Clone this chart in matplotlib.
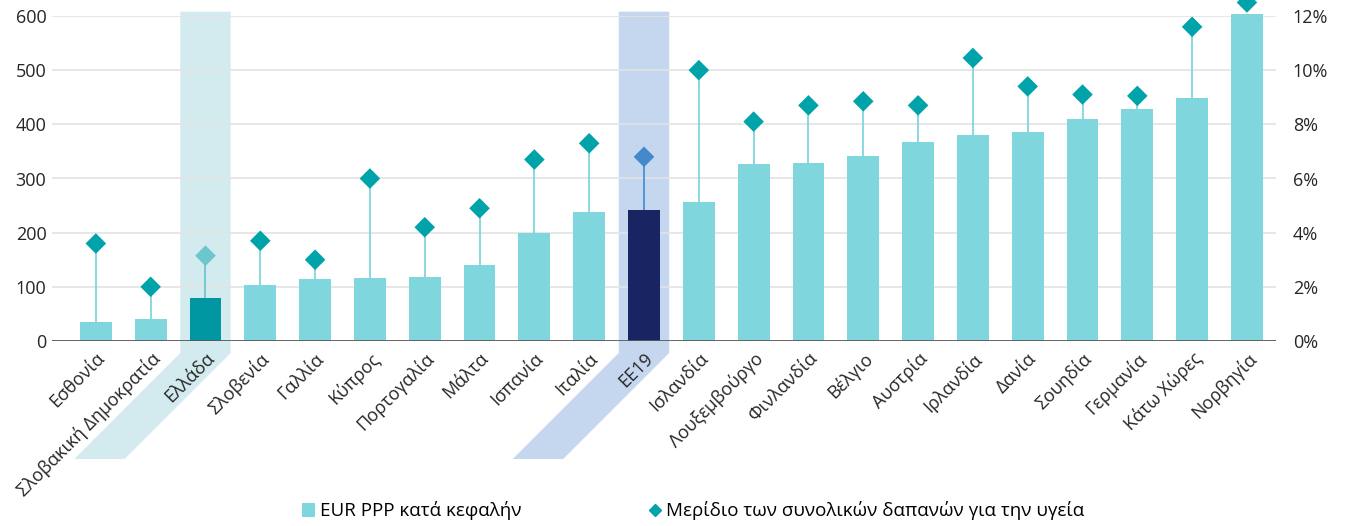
import numpy as np
import matplotlib
matplotlib.use('Agg')
import matplotlib.pyplot as plt
from matplotlib.patches import Polygon
from matplotlib.lines import Line2D
from matplotlib.patches import Patch

plt.rcParams['font.family'] = ['Open Sans', 'DejaVu Sans']

countries = ['Εσθονία', 'Σλοβακική Δημοκρατία', 'Ελλάδα', 'Σλοβενία', 'Γαλλία', 'Κύπρος',
             'Πορτογαλία', 'Μάλτα', 'Ισπανία', 'Ιταλία', 'ΕΕ19', 'Ισλανδία', 'Λουξεμβούργο',
             'Φινλανδία', 'Βέλγιο', 'Αυστρία', 'Ιρλανδία', 'Δανία', 'Σουηδία', 'Γερμανία',
             'Κάτω Χώρες', 'Νορβηγία']
eur_ppp = [36, 40, 79, 103, 114, 116, 118, 140, 200, 238, 242, 257, 327, 328, 342, 368,
           381, 385, 409, 428, 449, 604]
share = [3.6, 2.0, 3.15, 3.7, 3.0, 6.0, 4.2, 4.9, 6.7, 7.3, 6.8, 10.0, 8.1, 8.7, 8.85,
         8.7, 10.45, 9.4, 9.1, 9.05, 11.6, 12.5]
left_ticks = [0, 100, 200, 300, 400, 500, 600]
right_ticks = [0, 2, 4, 6, 8, 10, 12]
bar_label = 'EUR PPP κατά κεφαλήν'
dot_label = 'Μερίδιο των συνολικών δαπανών για την υγεία'

# colours
c_bar = '#80D6DD'
c_dot = '#00A3AA'
hl = {'Ελλάδα': dict(bar='#0097A3', dot='#6CC6CD', stem='#6CC6CD', band='#D3EBEF'),
      'ΕΕ19': dict(bar='#182562', dot='#4488CC', stem='#4A90D2', band='#C5D7EF')}

W, H = 1346, 526
fig = plt.figure(figsize=(W / 100, H / 100), dpi=100)
ax = fig.add_axes([52 / W, 1 - 341 / H, (1276 - 52) / W, (341 - 16) / H])
ax2 = ax.twinx()
ax.patch.set_visible(False)
ax2.patch.set_visible(False)

x = np.arange(len(countries))
bar_cols = [hl[c]['bar'] if c in hl else c_bar for c in countries]
dot_cols = [hl[c]['dot'] if c in hl else c_dot for c in countries]
stem_cols = [hl[c]['stem'] if c in hl else c_bar for c in countries]

ax.set_xlim(-0.8, len(countries) - 0.47)
ax.set_ylim(0, 600)
ax2.set_ylim(0, 12)

bars = ax.bar(x, eur_ppp, width=0.58, color=bar_cols, zorder=3)
for b in bars:
    b.set_clip_on(False)
ratio = 600 / 12
ax.vlines(x, eur_ppp, np.array(share) * ratio, colors=stem_cols, linewidth=1.3, zorder=2)
ax2.scatter(x, share, marker='D', s=110, c=dot_cols, zorder=5, clip_on=False, linewidths=0)

ax.set_yticks(left_ticks)
ax2.set_yticks(right_ticks)
ax2.set_yticklabels([f'{t}%' for t in right_ticks])
ax.yaxis.grid(True, color='#E3E3E3', linewidth=1.2, zorder=0)
ax.set_axisbelow(True)
for a in (ax, ax2):
    for s in ['top', 'left', 'right', 'bottom']:
        a.spines[s].set_visible(False)
    a.tick_params(length=0, labelsize=13, colors='#262626')
ax.axhline(0, color='#595959', linewidth=2, zorder=4)
ax.tick_params(axis='y', pad=4)
ax2.tick_params(axis='y', pad=12)

ax.set_xticks(x)
ax.set_xticklabels(countries, rotation=45, ha='right', va='top', rotation_mode='anchor')
ax.tick_params(axis='x', pad=6)

# highlight bands running down along the rotated label
fig.canvas.draw()
bw = 0.92
for name, st in hl.items():
    i = countries.index(name)
    xl, ytop = ax.transData.transform((i - bw / 2, 608))
    xr, ybase = ax.transData.transform((i + bw / 2, 0))
    yk = ybase - 12
    drop = 106
    pts = [(xl, ytop), (xr, ytop), (xr, yk), (xr - drop, yk - drop), (xl - drop, yk - drop), (xl, yk)]
    pts = [(px / W, py / H) for px, py in pts]
    fig.patches.append(Polygon(pts, closed=True, transform=fig.transFigure,
                               facecolor=st['band'], edgecolor='none', zorder=-1))

handles = [Patch(facecolor=c_bar, edgecolor='none'),
           Line2D([], [], marker='D', color=c_dot, linestyle='none', markersize=6.5)]
fig.legend(handles, [bar_label, dot_label], loc='center', bbox_to_anchor=(0.515, 1 - 511 / H),
           ncol=2, frameon=False, fontsize=13.5, columnspacing=6.8, handlelength=0.7,
           handletextpad=0.25, handleheight=0.7)

fig.savefig('out.png', dpi=100)
